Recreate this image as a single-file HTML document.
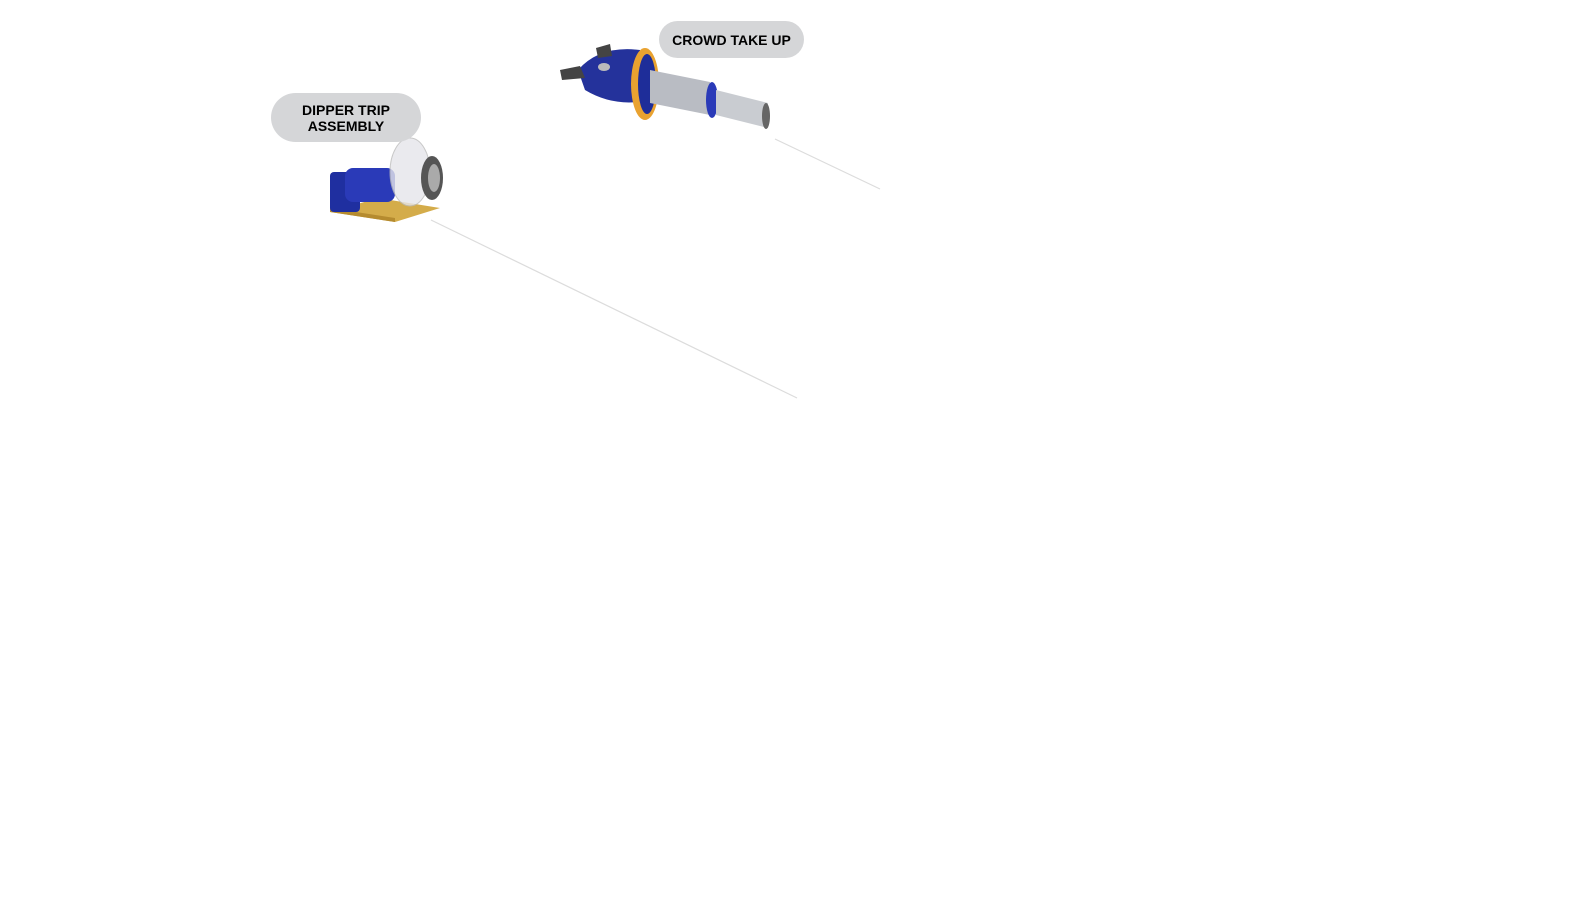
<!DOCTYPE html>
<html><head><meta charset="utf-8"><style>
html,body{margin:0;padding:0;background:#fff;width:1572px;height:900px;overflow:hidden;position:relative;font-family:"Liberation Sans",sans-serif}
.pill{position:absolute;background:#d5d6d8;color:#000;font-weight:bold;font-size:14px;text-align:center;line-height:16px;display:flex;align-items:center;justify-content:center}
</style></head><body>
<svg width="1572" height="900" style="position:absolute;left:0;top:0">
<line x1="431" y1="220" x2="797" y2="398" stroke="#dcdcdc" stroke-width="1.2"/>
<line x1="775" y1="139" x2="880" y2="189" stroke="#dcdcdc" stroke-width="1.2"/>
<!-- dipper trip -->
<polygon points="330,212 395,222 440,208 378,198" fill="#d4ac4a"/>
<polygon points="330,212 395,222 395,218 330,208" fill="#b58b2f"/>
<rect x="330" y="172" width="30" height="40" rx="4" fill="#1f2fa0"/>
<rect x="345" y="168" width="50" height="34" rx="8" fill="#2a3ab8"/>
<ellipse cx="410" cy="172" rx="20" ry="34" fill="#e6e6ea" opacity="0.8" stroke="#bbb"/>
<ellipse cx="432" cy="178" rx="11" ry="22" fill="#555"/>
<ellipse cx="434" cy="178" rx="6" ry="14" fill="#aaa"/>
<!-- crowd take up -->
<path d="M578,70 Q600,45 640,50 L650,100 Q615,108 585,90 Z" fill="#24329b"/>
<polygon points="560,70 580,66 585,78 562,80" fill="#444"/>
<polygon points="596,48 610,44 612,56 598,58" fill="#444"/>
<ellipse cx="604" cy="67" rx="6" ry="4" fill="#bbb"/>
<ellipse cx="645" cy="84" rx="14" ry="36" fill="#e9a230"/>
<ellipse cx="647" cy="84" rx="9" ry="30" fill="#1e2d99"/>
<polygon points="650,70 710,82 710,115 650,103" fill="#b9bcc3"/>
<ellipse cx="712" cy="100" rx="6" ry="18" fill="#2a3ab8"/>
<polygon points="716,90 768,103 768,128 716,115" fill="#c9ccd1"/>
<ellipse cx="766" cy="116" rx="4" ry="13" fill="#666"/>
</svg>
<div class="pill" style="left:271px;top:93px;width:150px;height:49px;border-radius:25px">DIPPER TRIP<br>ASSEMBLY</div>
<div class="pill" style="left:659px;top:21px;width:145px;height:37px;border-radius:19px">CROWD TAKE UP</div>
</body></html>
